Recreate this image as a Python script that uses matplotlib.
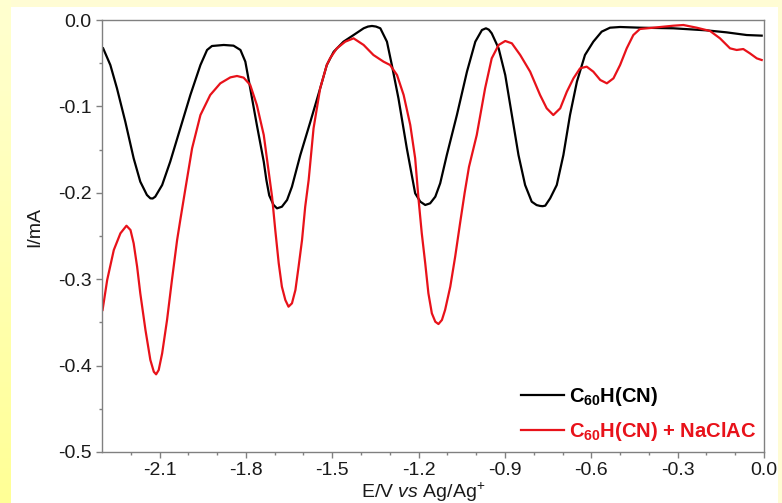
import numpy as np
import matplotlib
matplotlib.use("Agg")
from matplotlib import pyplot as plt
from matplotlib.patches import Rectangle

plt.rcParams['font.family'] = ['Liberation Sans', 'DejaVu Sans']
plt.rcParams['mathtext.fontset'] = 'custom'
plt.rcParams['mathtext.rm'] = 'Liberation Sans'
plt.rcParams['mathtext.it'] = 'Liberation Sans:italic'
plt.rcParams['mathtext.bf'] = 'Liberation Sans:bold'
plt.rcParams['mathtext.default'] = 'regular'

# C60H(CN) alone
e_c60 = [-2.296, -2.271, -2.248, -2.219, -2.190, -2.167, -2.144, -2.132, -2.124, -2.115,
         -2.091, -2.063, -2.028, -1.993, -1.958, -1.935, -1.918, -1.877, -1.843, -1.819,
         -1.802, -1.785, -1.762, -1.738, -1.729, -1.719, -1.704, -1.692, -1.675, -1.657,
         -1.640, -1.611, -1.576, -1.542, -1.519, -1.495, -1.461, -1.426, -1.391, -1.376,
         -1.362, -1.348, -1.333, -1.310, -1.293, -1.270, -1.241, -1.212, -1.194, -1.177,
         -1.160, -1.142, -1.125, -1.102, -1.067, -1.032, -1.003, -0.980, -0.966, -0.956,
         -0.946, -0.922, -0.899, -0.876, -0.853, -0.830, -0.807, -0.790, -0.778, -0.769,
         -0.760, -0.743, -0.720, -0.697, -0.674, -0.650, -0.622, -0.593, -0.564, -0.535,
         -0.500, -0.431, -0.315, -0.199, -0.130, -0.060, -0.008]
i_c60 = [-0.0328, -0.0521, -0.0791, -0.1177, -0.1601, -0.1871, -0.2025, -0.2064, -0.2066, -0.2045,
         -0.1910, -0.1640, -0.1254, -0.0868, -0.0521, -0.0347, -0.0301, -0.0289, -0.0297, -0.0347,
         -0.0482, -0.0791, -0.1215, -0.1640, -0.1850, -0.2030, -0.2141, -0.2180, -0.2161, -0.2083,
         -0.1929, -0.1563, -0.1177, -0.0791, -0.0521, -0.0367, -0.0251, -0.0174, -0.0096, -0.0076,
         -0.0069, -0.0076, -0.0096, -0.0251, -0.0521, -0.0907, -0.1485, -0.2006, -0.2103, -0.2141,
         -0.2122, -0.2045, -0.1890, -0.1563, -0.1100, -0.0598, -0.0251, -0.0116, -0.0096, -0.0112,
         -0.0154, -0.0328, -0.0637, -0.1100, -0.1563, -0.1910, -0.2103, -0.2142, -0.2152, -0.2155,
         -0.2149, -0.2064, -0.1910, -0.1563, -0.1100, -0.0714, -0.0405, -0.0251, -0.0135, -0.0089,
         -0.0081, -0.0089, -0.0096, -0.0120, -0.0143, -0.0174, -0.0181]

# C60H(CN) with NaClAC added
e_mix = [-2.298, -2.282, -2.259, -2.236, -2.215, -2.201, -2.190, -2.178, -2.167, -2.149,
         -2.132, -2.120, -2.112, -2.103, -2.091, -2.074, -2.057, -2.039, -2.028, -2.010,
         -1.987, -1.958, -1.924, -1.889, -1.854, -1.831, -1.808, -1.785, -1.762, -1.738,
         -1.709, -1.698, -1.686, -1.675, -1.663, -1.652, -1.640, -1.628, -1.617, -1.605,
         -1.594, -1.582, -1.565, -1.542, -1.519, -1.507, -1.484, -1.455, -1.426, -1.391,
         -1.357, -1.322, -1.299, -1.275, -1.252, -1.229, -1.212, -1.200, -1.189, -1.177,
         -1.166, -1.154, -1.142, -1.131, -1.119, -1.108, -1.090, -1.073, -1.056, -1.040,
         -1.025, -0.998, -0.969, -0.946, -0.922, -0.899, -0.876, -0.847, -0.8125, -0.778,
         -0.755, -0.732, -0.708, -0.685, -0.662, -0.639, -0.616, -0.593, -0.569, -0.546,
         -0.523, -0.500, -0.477, -0.454, -0.431, -0.384, -0.315, -0.280, -0.234, -0.1875,
         -0.153, -0.118, -0.095, -0.072, -0.049, -0.025, -0.008]
i_mix = [-0.3356, -0.3009, -0.2662, -0.2469, -0.2381, -0.2431, -0.2585, -0.2855, -0.3163, -0.3588,
         -0.3935, -0.4071, -0.4101, -0.4051, -0.3858, -0.3472, -0.3009, -0.2546, -0.2315, -0.1948,
         -0.1485, -0.1100, -0.0868, -0.0733, -0.0664, -0.0648, -0.0667, -0.0752, -0.0984, -0.1331,
         -0.2050, -0.2431, -0.2816, -0.3087, -0.3241, -0.3318, -0.3279, -0.3125, -0.2855, -0.2546,
         -0.2161, -0.1852, -0.1254, -0.0791, -0.0521, -0.0440, -0.0328, -0.0251, -0.0212, -0.0289,
         -0.0405, -0.0482, -0.0521, -0.0637, -0.0868, -0.1215, -0.1600, -0.2083, -0.2469, -0.2816,
         -0.3163, -0.3395, -0.3492, -0.3519, -0.3472, -0.3356, -0.3087, -0.2740, -0.2353, -0.2000,
         -0.1700, -0.1331, -0.0791, -0.0444, -0.0289, -0.0243, -0.0270, -0.0405, -0.0598, -0.0868,
         -0.1022, -0.1100, -0.1022, -0.0830, -0.0675, -0.0559, -0.0540, -0.0598, -0.0694, -0.0733,
         -0.0675, -0.0521, -0.0328, -0.0174, -0.0104, -0.0089, -0.0066, -0.0058, -0.0089, -0.0127,
         -0.0212, -0.0328, -0.0347, -0.0336, -0.0386, -0.0444, -0.0463]

x_ticks = [-2.1, -1.8, -1.5, -1.2, -0.9, -0.6, -0.3, 0.0]
y_ticks = [0.0, -0.1, -0.2, -0.3, -0.4, -0.5]

fig = plt.figure(figsize=(7.82, 5.03), dpi=100, facecolor='#fffcd4')

# white slide panel with a yellow strip down the left side
fig.patches.append(Rectangle((11 / 782, 0), 767 / 782, 496 / 503, transform=fig.transFigure,
                             facecolor='white', edgecolor='none', zorder=-5))
strip = fig.add_axes([0, 0, 11 / 782, 1], zorder=-4)
strip.imshow(np.linspace(0, 1, 100).reshape(-1, 1), aspect='auto', extent=[0, 1, 0, 1],
             origin='lower',
             cmap=matplotlib.colors.LinearSegmentedColormap.from_list('y', ['#ffff96', '#ffffd0']))
strip.axis('off')

ax = fig.add_axes([102 / 782, 51 / 503, 662 / 782, 432 / 503])
ax.set_facecolor('white')

ax.plot(e_c60, i_c60, color='black', lw=1.6, solid_joinstyle='round',
        label='C$_{60}$H(CN)')
ax.plot(e_mix, i_mix, color='#e8121a', lw=1.6, solid_joinstyle='round',
        label='C$_{60}$H(CN) + NaClAC')

ax.set_xlim(-2.3, 0.0)
ax.set_ylim(-0.5, 0.0)
ax.set_xticks(x_ticks)
ax.set_xticklabels(['%.1f' % v for v in x_ticks])
ax.set_yticks(y_ticks)
ax.set_yticklabels(['%.1f' % v for v in y_ticks])
ax.set_xticks(np.arange(-2.2, 0.0, 0.1), minor=True)
ax.set_yticks(np.arange(-0.45, 0.0, 0.1), minor=True)

for s in ax.spines.values():
    s.set_color('#808080')
    s.set_linewidth(1.0)
ax.tick_params(which='major', direction='out', length=4.5, width=1.0, color='#808080',
               labelsize=14, labelcolor='#1a1a1a', pad=3)
ax.tick_params(which='minor', direction='out', length=2.5, width=1.0, color='#808080')

ax.set_xlabel(r'E/V $\it{vs}$ Ag/Ag$^{+}$', fontsize=14, color='#1a1a1a')
ax.xaxis.set_label_coords(0.485, -0.067)
ax.set_ylabel('I/mA', fontsize=14, color='#1a1a1a')
ax.yaxis.set_label_coords(-0.088, 0.52)

leg = ax.legend(loc='lower right', frameon=False, handlelength=2.1, handletextpad=0.25,
                labelspacing=0.6, borderaxespad=0.0, prop={'weight': 'bold', 'size': 14.5},
                bbox_to_anchor=(1.0, 0.002))
for txt, ln in zip(leg.get_texts(), leg.get_lines()):
    txt.set_color(ln.get_color())

fig.savefig('out.png', dpi=100, facecolor=fig.get_facecolor())
